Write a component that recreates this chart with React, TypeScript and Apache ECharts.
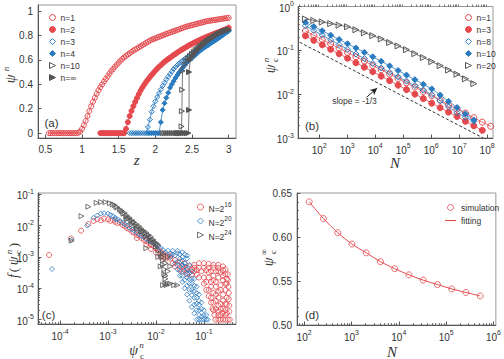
import React, { useEffect, useRef } from 'react';
import * as echarts from 'echarts';

const RED = '#e5484d';
const BLUE = '#2b7bc0';
const GREY = '#555555';
const TRI = 'path://M0,0L10,5L0,10Z';
const BAR = 'path://M0,0H20V2H0Z';
const SANS = 'Liberation Sans, Arial, Helvetica, sans-serif';
const SERIF = 'Liberation Serif, Times New Roman, serif';
const LOG2 = Math.log10(2);

// ---------- panel (a): psi^n versus z ----------
const aStep = 0.025;
const aStart1 = 0.55;
const aPsi1 = [0,0,0,0,0,0,0,0,0,0,0,0,0,0,0,0,
  0.003,0.012,0.035,0.065,0.1,0.14,0.18,0.22,0.257,0.29,0.322,0.351,0.377,0.4,0.422,0.444,0.466,0.488,0.509,0.527,0.545,0.562,0.578,0.594,0.608,0.621,0.633,0.644,0.655,0.666,0.676,
  0.685,0.694,0.703,0.712,0.721,0.73,0.739,0.749,0.758,0.765,0.771,0.777,0.783,0.789,0.795,0.801,0.807,0.813,
  0.819,0.824,0.83,0.835,0.84,0.846,0.851,0.857,0.862,0.868,0.873,0.877,0.881,0.885,0.889,0.893,0.897,0.901,0.905,0.909,0.913,0.917,0.919,0.922,0.924,0.927,0.929,0.931,0.934,0.936,0.938,0.941,0.943,0.945];
const aStart2 = 1.25;
const aPsi2 = [0,0,0,0,0,0,0,0,0,0,0,0,0,0,
  0.035,0.09,0.14,0.182,0.22,0.255,0.288,0.32,0.35,0.375,0.398,0.42,0.44,0.459,0.477,0.495,0.512,0.528,0.543,0.557,
  0.571,0.584,0.596,0.607,0.618,0.629,0.64,0.65,0.66,0.67,0.68,0.689,0.698,0.707,0.716,0.724,0.732,0.74,0.748,0.755,
  0.762,0.769,0.776,0.783,0.789,0.795,0.801,0.807,0.813,0.819,0.825,0.831,0.837,0.843,0.849,0.855,0.865];
const aStart3 = 1.65;
const aPsi3 = [0,0,0,0,0,0,0,0,0,0,
  0.05,0.11,0.175,0.22,0.26,0.296,0.328,0.358,0.388,0.414,0.44,0.462,0.484,0.506,0.526,0.542,0.557,0.571,0.584,0.596,
  0.608,0.619,0.63,0.641,0.652,0.663,0.674,0.685,0.695,0.705,0.714,0.724,0.733,0.742,0.751,0.76,0.769,0.777,0.786,0.795,
  0.804,0.813,0.822,0.831,0.84];
const aStart4 = 1.9;
const aPsi4 = [0,0,0,0,0,0,0,
  0.09,0.19,0.245,0.29,0.33,0.372,0.4,0.426,0.452,0.476,0.497,0.517,0.536,0.556,0.576,0.59,0.603,0.617,0.63,0.643,
  0.656,0.67,0.682,0.693,0.703,0.713,0.723,0.733,0.743,0.753,0.763,0.773,0.783,0.794,0.805,0.816,0.826,0.836];
const aZ10 = [2.1,2.125,2.15,2.175,2.2,2.225,2.25,2.275,2.3,2.325,2.35,2.358,2.362,2.366,2.372,
  2.4,2.425,2.45,2.475,2.5,2.525,2.55,2.575,2.6,2.625,2.65,2.675,2.7,2.725,2.75,2.775,2.8,2.825,2.85,2.875,2.9,2.925,2.95,2.975,3.0];
const aPsi10 = [0,0,0,0,0,0,0,0,0,0,0,0.055,0.18,0.355,0.51,
  0.56,0.59,0.612,0.632,0.65,0.666,0.681,0.695,0.708,0.72,0.732,0.743,0.754,0.764,0.774,0.784,0.793,0.802,0.811,0.819,0.827,0.834,0.84,0.846,0.85];
const aZInf = [2.3,2.325,2.35,2.375,2.4,2.425,2.45,2.46,2.46,2.475,
  2.5,2.525,2.55,2.575,2.6,2.625,2.65,2.675,2.7,2.725,2.75,2.775,2.8,2.825,2.85,2.875,2.9,2.925,2.95,2.975,3.0];
const aPsiInf = [0,0,0,0,0,0,0,0.19,0.5,0.6,
  0.625,0.645,0.663,0.68,0.695,0.709,0.722,0.735,0.747,0.758,0.769,0.779,0.789,0.798,0.807,0.815,0.823,0.83,0.836,0.841,0.845];
const aXTicks = [0.5, 1, 1.5, 2, 2.5, 3];
const aYTicks = [0, 0.2, 0.4, 0.6, 0.8, 1];

// ---------- panel (b): psi_c^n versus N (N = 2^p) ----------
const bPow1 = [5,6,7,8,9,10,11,12,13,14,15,16,17,18,19,20,21,22,23,24,25,26,27];
const bPsi1 = [0.277,0.221,0.176,0.14,0.112,0.089,0.071,0.057,0.045,0.036,0.0287,0.0228,0.0182,0.0145,0.0115,0.0092,0.0073,0.0058,0.0046,0.0037,0.0029,0.0023,0.00185];
const bPow3 = [5,6,7,8,9,10,11,12,13,14,15,16,17,18,19,20,21,22,23,24,25,26];
const bPsi3 = [0.214,0.169,0.1336,0.1055,0.0834,0.0659,0.052,0.0411,0.0325,0.0257,0.0203,0.016,0.0127,0.01,0.0079,0.0062,0.0049,0.0039,0.0031,0.0024,0.0019,0.0015];
const bPow8 = [5,6,7,8,9,10,11,12,13,14,15,16,17,18,19,20,21,22,23,24,25];
const bPsi8 = [0.363,0.284,0.222,0.173,0.135,0.106,0.0826,0.0646,0.0501,0.0396,0.0314,0.0249,0.0198,0.0157,0.0124,0.00977,0.00708,0.00513,0.00376,0.00295,0.0024];
const bPow10 = [5,6,7,8,9,10,11,12,13,14,15,16,17,18,19,20,21,22,23,24,25];
const bPsi10 = [0.437,0.348,0.278,0.222,0.177,0.141,0.113,0.09,0.0713,0.0562,0.0442,0.0347,0.0272,0.0214,0.0168,0.0132,0.00955,0.00684,0.00495,0.00355,0.00257];
const bPow20 = [5,6,7,8,9,10,11,12,13,14,15,16,17,18,19,20,21,22,23,24,25];
const bPsi20 = [0.519,0.479,0.442,0.407,0.376,0.345,0.295,0.251,0.216,0.182,0.151,0.126,0.1035,0.0841,0.0684,0.0553,0.0447,0.0355,0.0285,0.0224,0.0174];
const bGuideN = [20, 7.2e7];
const bGuidePsi = [0.153, 0.001];
const bArrowFrom = [4900, 0.0085];
const bArrowTo = [11750, 0.0138];

// ---------- panel (c): distribution f(psi_c^n) ----------
const cN16 = [
  [5.9e-5,1.15e-3],[1.7e-4,3.9e-3],[2.75e-4,6.9e-3],[3.9e-4,1.12e-2],[5e-4,1.41e-2],[6e-4,1.58e-2],[7.1e-4,1.48e-2],[8.3e-4,1.66e-2],[1e-3,1.58e-2],[1.12e-3,1.41e-2],[1.26e-3,1.51e-2],[1.41e-3,1.32e-2],[1.58e-3,1.2e-2],[1.78e-3,1.26e-2],[2e-3,1.05e-2],[2.24e-3,9.5e-3],[2.5e-3,8.3e-3],[2.8e-3,7.6e-3],[3.2e-3,6.3e-3],[3.5e-3,6e-3],[4e-3,5e-3],[4.5e-3,4.7e-3],[5e-3,4e-3],[5.6e-3,3.5e-3],[6.3e-3,3.2e-3],[7.1e-3,2.8e-3],[7.9e-3,2.4e-3],[8.9e-3,2.2e-3],[1e-2,1.9e-3],[1.12e-2,1.66e-3],[1.26e-2,1.5e-3],[1.41e-2,1.26e-3],[1.58e-2,1.12e-3],[4e-3,4e-3],[6.3e-3,2.5e-3],[1e-2,1.4e-3],[7.9e-3,1.8e-3],[1.26e-2,1e-3],
  [1.78e-2,1e-3],[2e-2,8.9e-4],[2.5e-2,7.9e-4],[3.16e-2,7.1e-4],[3.98e-2,6.3e-4],[2.5e-2,5e-4],[3.16e-2,4e-4],[3.98e-2,4e-4],[5e-2,3.2e-4],
  [1.6e-2,8.9e-4],[1.41e-2,1e-3],[2e-2,1.1e-3],[2.24e-2,6.3e-4],[2.82e-2,5.6e-4],[3.55e-2,5e-4],[4.47e-2,4.5e-4],[3.55e-2,3.5e-4],[4.47e-2,2.8e-4],[5.6e-2,4e-4],[5.6e-2,2.8e-4],[7.1e-2,2.8e-4],[7.1e-2,3.8e-4],
  [5e-2,5e-4],[6.3e-2,5.6e-4],[7.9e-2,6.3e-4],[0.1,6.3e-4],[0.126,6e-4],[0.158,5.6e-4],[0.2,5.6e-4],[0.251,5e-4],[0.282,4e-4],
  [6.3e-2,4.5e-4],[7.9e-2,4.5e-4],[0.1,4.5e-4],[0.126,4.5e-4],[0.158,4.5e-4],[0.2,4.5e-4],[0.251,3.8e-4],
  [8.9e-2,3.5e-4],[0.112,3.8e-4],[0.141,3.5e-4],[0.178,3.5e-4],[0.224,3.2e-4],[0.282,2.8e-4],
  [0.316,2.8e-4],[0.316,1.8e-4],[0.324,1.12e-4],[0.331,7.1e-5],[0.331,4.5e-5],[0.339,2.8e-5],[0.339,1.8e-5],[0.347,1e-5],
  [6.3e-2,3.5e-4],[7.9e-2,2.2e-4],[0.1,1.4e-4],[0.112,8.9e-5],[0.126,5.6e-5],[0.141,3.5e-5],[0.151,2.2e-5],[0.166,1.4e-5],[0.174,1e-5],
  [0.126,3.2e-4],[0.158,2.5e-4],[0.2,3.5e-4],[0.251,2.5e-4],[0.178,1.6e-4],[0.224,1.26e-4],[0.282,1.4e-4],[0.2,7.9e-5],[0.251,6.3e-5],[0.282,3.2e-5],[0.224,3.2e-5],[0.178,4e-5],[0.2,1.8e-5],[0.251,1.6e-5],[0.141,1.12e-4],
  [0.1,2.2e-4],[0.126,2.2e-4],[0.158,1.8e-4],[0.2,2.2e-4],[0.251,1.8e-4],[0.3,2e-4],
  [0.112,1.6e-4],[0.141,1.6e-4],[0.178,1.12e-4],[0.224,8.9e-5],[0.282,8.9e-5],[0.3,1.4e-4],
  [0.126,8.9e-5],[0.158,7.1e-5],[0.178,6.3e-5],[0.2,5e-5],[0.251,4e-5],[0.3,5e-5],[0.3,3e-5],
  [0.141,5e-5],[0.158,3.5e-5],[0.2,2.8e-5],[0.224,2.2e-5],[0.251,2.2e-5],[0.3,1.6e-5],[0.178,2.2e-5],[0.2,1.4e-5],[0.224,1.4e-5],[0.282,1.4e-5],
  [0.2,1e-5],[0.224,1e-5],[0.251,1e-5],[0.282,1e-5],[0.316,1e-5],[0.158,2e-5],[0.282,2e-5],
];
const cN20 = [
  [6.8e-5,4.1e-4],[1.74e-4,3.5e-3],[3.7e-4,1e-2],[5e-4,1.78e-2],[6e-4,2.1e-2],[7.1e-4,2.4e-2],[8.3e-4,2.5e-2],[1e-3,2.4e-2],[1.12e-3,2.2e-2],[1.26e-3,2e-2],[1.41e-3,1.78e-2],[1.58e-3,1.58e-2],[1.78e-3,1.41e-2],[2e-3,1.26e-2],[2.5e-3,1e-2],[3.2e-3,7.6e-3],[4e-3,6e-3],[5e-3,4.7e-3],[6.3e-3,3.7e-3],[7.9e-3,3e-3],[1e-2,2.4e-3],[1.26e-2,1.9e-3],
  [1.41e-3,1.6e-2],[2.24e-3,1.1e-2],[2.8e-3,8.5e-3],[3.5e-3,6.8e-3],[4.5e-3,5.2e-3],[5.6e-3,4.2e-3],[7.1e-3,3.3e-3],[8.9e-3,2.7e-3],[1.12e-2,2.1e-3],
  [1.41e-2,1.66e-3],[1.78e-2,1.58e-3],[2.24e-2,1.58e-3],[2.82e-2,1.58e-3],[3.55e-2,1.41e-3],[3.98e-2,1.2e-3],
  [1.58e-2,1.4e-3],[2e-2,1.3e-3],[2.24e-2,1.2e-3],[2.82e-2,1.3e-3],[3.16e-2,1.2e-3],[3.55e-2,1e-3],[4.47e-2,1.1e-3],
  [4.47e-2,8.9e-4],[5e-2,5.6e-4],[5.62e-2,3.5e-4],[6.3e-2,2e-4],[7.08e-2,1.12e-4],[7.94e-2,6.3e-5],[8.91e-2,3.5e-5],[0.1,2e-5],[0.112,1.4e-5],[0.12,1e-5],
  [2e-2,1e-3],[2.51e-2,6.3e-4],[2.82e-2,4e-4],[3.16e-2,2.5e-4],[3.55e-2,1.6e-4],[3.98e-2,1e-4],[4.47e-2,6.3e-5],[5e-2,4e-5],[5.62e-2,2.5e-5],[6.3e-2,1.6e-5],[7.08e-2,1e-5],
  [2.51e-2,1.12e-3],[3.16e-2,8.9e-4],[3.55e-2,5.6e-4],[3.98e-2,3.5e-4],[4.47e-2,2.2e-4],[5e-2,1.4e-4],[5.62e-2,8.9e-5],[6.3e-2,5e-5],[7.08e-2,3.2e-5],[7.94e-2,2e-5],[8.91e-2,1.26e-5],
  [2.82e-2,7e-4],[3.16e-2,5e-4],[3.55e-2,7.5e-4],[3.98e-2,5e-4],[3.98e-2,6.3e-4],[4.47e-2,4e-4],[4.47e-2,3e-4],[5e-2,3e-4],[5e-2,2e-4],[5.62e-2,2e-4],[5.62e-2,1.4e-4],[6.3e-2,1.2e-4],[6.3e-2,8e-5],[7.08e-2,7e-5],[7.08e-2,5e-5],[7.94e-2,4e-5],[7.94e-2,3e-5],[8.91e-2,2.2e-5],[0.1,1.4e-5],[0.112,1e-5],
  [5.62e-2,6e-5],[6.3e-2,3e-5],[7.08e-2,2e-5],[7.94e-2,1.4e-5],[5e-2,9e-5],[4.47e-2,1.2e-4],[3.98e-2,1.8e-4],[3.55e-2,2.5e-4],[3.16e-2,3.5e-4],
  [7.94e-2,1e-5],[8.91e-2,1e-5],[0.1,1e-5],
];
const cN24 = [
  [1.74e-4,3.3e-3],[2.8e-4,2e-2],[3.9e-4,4e-2],[5.8e-4,5.3e-2],[7.2e-4,5.6e-2],[8.9e-4,5.6e-2],[1.1e-3,5.2e-2],[1.38e-3,4.5e-2],
  [1.58e-3,3.8e-2],[1.78e-3,3.3e-2],[2e-3,2.8e-2],[2.24e-3,2.5e-2],[2.5e-3,2.1e-2],[2.8e-3,1.78e-2],[3.2e-3,1.5e-2],[3.5e-3,1.26e-2],[4e-3,1.1e-2],[4.5e-3,9.5e-3],[5e-3,7.9e-3],[5.6e-3,6.9e-3],[6.3e-3,6e-3],[7.1e-3,5e-3],[7.9e-3,4.4e-3],[8.9e-3,3.5e-3],[1e-2,2.8e-3],[1.12e-2,2.4e-3],
  [1.26e-3,4.8e-2],[1.5e-3,4e-2],[1.9e-3,3e-2],[2.1e-3,2.4e-2],[2.4e-3,1.9e-2],[2.65e-3,1.7e-2],[3e-3,1.4e-2],[3.35e-3,1.3e-2],[3.8e-3,1e-2],[4.2e-3,9e-3],[4.8e-3,7.3e-3],[5.3e-3,6.5e-3],[6e-3,5.5e-3],[6.7e-3,5e-3],[7.5e-3,4e-3],[8.4e-3,3.6e-3],[9.4e-3,3e-3],[1.06e-2,2.6e-3],
  [2.5e-3,1.6e-2],[3.2e-3,1.1e-2],[4e-3,7.9e-3],[5e-3,6.3e-3],[6.3e-3,4.5e-3],[7.9e-3,3.2e-3],[1e-2,2.1e-3],[6.3e-3,1.9e-3],
  [1.12e-2,1.6e-3],[1.26e-2,1.26e-3],[1.32e-2,1e-3],[1.41e-2,7.9e-4],[1.41e-2,5.6e-4],[1.5e-2,4e-4],[1.5e-2,2.8e-4],[1.58e-2,2e-4],[1.58e-2,1.4e-4],[1.78e-2,1.4e-4],[2e-2,1.4e-4],[1.26e-2,5e-4],[1.12e-2,1e-3],
  [1.41e-2,1.26e-4],[1.66e-2,1.26e-4],[2.4e-2,1.26e-4],[2.8e-2,1.26e-4],[1.58e-2,2.5e-4],[1.78e-2,3.5e-4],[2e-2,5e-4],[1.58e-2,6.3e-4],[1.78e-2,1e-3],[1.41e-2,1.26e-3],
];

// ---------- panel (d): psi_c^inf versus N ----------
const dPow = [7,8,9,10,11,12,13,14,15,16,17,18,19];
const dSim = [0.64,0.621,0.605,0.592,0.582,0.572,0.564,0.557,0.551,0.546,0.541,0.537,0.533];
const dFit = [0.64,0.621,0.605,0.592,0.582,0.572,0.564,0.557,0.551,0.546,0.541,0.537,0.533];

const gridPairs = (start: number, vals: number[]) => vals.map((v, i) => [+(start + i * aStep).toFixed(3), v]);
const logPairs = (pows: number[], vals: number[]) => vals.map((v, i) => [pows[i] * LOG2, Math.log10(v)]);
const logXY = (pts: number[][]) => pts.map(([x, y]) => [Math.log10(x), Math.log10(y)]);
const logMinor = (lo: number, hi: number) => {
  const out: number[] = [];
  for (let e = Math.floor(lo); e <= Math.ceil(hi); e++) {
    for (let k = 2; k <= 9; k++) {
      const v = e + Math.log10(k);
      if (v > lo && v < hi) out.push(v);
    }
  }
  return out;
};
const intTicks = (a: number, b: number) => { const o: number[] = []; for (let i = a; i <= b; i++) o.push(i); return o; };

const logRich = {
  b: { fontSize: 10, fontFamily: SANS, color: '#333', verticalAlign: 'bottom' },
  s: { fontSize: 7, fontFamily: SANS, color: '#333', verticalAlign: 'bottom', padding: [0, 0, 6, 0] },
};
const logFmt = (v: number) => `{b|10}{s|${Math.round(v)}}`;

function mainAxis(kind: 'x' | 'y', gridIndex: number, min: number, max: number, ticks: number[], formatter: any, margin: number, rich?: any) {
  return {
    type: 'value', gridIndex, min, max, position: kind === 'x' ? 'bottom' : 'left',
    axisLine: { show: true, onZero: false, lineStyle: { color: '#555', width: 1 } },
    axisTick: { show: true, inside: true, length: 3.5, customValues: ticks, lineStyle: { color: '#555', width: 1 } },
    axisLabel: { show: true, customValues: ticks, formatter, margin, color: '#333', fontSize: 10, fontFamily: SANS, rich },
    splitLine: { show: false },
  };
}
function minorAxis(kind: 'x' | 'y', gridIndex: number, min: number, max: number, ticks: number[]) {
  return {
    type: 'value', gridIndex, min, max, position: kind === 'x' ? 'bottom' : 'left',
    axisLine: { show: false },
    axisLabel: { show: false },
    axisTick: { show: true, inside: true, length: 2, customValues: ticks, lineStyle: { color: '#555', width: 0.8 } },
    splitLine: { show: false },
  };
}

const openStyle = (c: string) => ({ color: 'rgba(255,255,255,0)', borderColor: c, borderWidth: 1 });
const fillStyle = (c: string) => ({ color: c, borderColor: c, borderWidth: 1 });

function lineSeries(name: string, xi: number, data: number[][], symbol: string, size: number, color: string, open: boolean) {
  return {
    name, type: 'line', xAxisIndex: xi, yAxisIndex: xi, data, symbol, symbolSize: size,
    showAllSymbol: true, symbolKeepAspect: true,
    itemStyle: open ? openStyle(color) : fillStyle(color),
    lineStyle: { color, width: 0.8 }, emphasis: { disabled: true },
  };
}
function scatterSeries(name: string, xi: number, data: number[][], symbol: string, size: number, color: string) {
  return {
    name, type: 'scatter', xAxisIndex: xi, yAxisIndex: xi, data, symbol, symbolSize: size, symbolKeepAspect: true,
    itemStyle: openStyle(color), emphasis: { disabled: true },
  };
}

const txt = (x: number, y: number, text: string, size: number, italic: boolean, family = SERIF) => ({
  type: 'text', x, y,
  style: { text, fontSize: size, fontFamily: family, fontStyle: italic ? 'italic' : 'normal', fill: '#333', align: 'center', verticalAlign: 'middle' },
});

function buildOption() {
  const xa = [0.4, 3.1], ya = [-0.04, 1.05];
  const xb = [1.24, 8.21], yb = [-3, 0];
  const xc = [-4.46, -0.33], yc = [-5.14, -0.96];
  const xd = [1.85, 6.05], yd = [0.5, 0.65];
  const dMinorY: number[] = [];
  for (let i = 51; i < 65; i++) dMinorY.push(i / 100);

  const legendBase = {
    orient: 'vertical', itemWidth: 6, itemHeight: 6, itemGap: 3, selectedMode: false,
    textStyle: { fontSize: 8.5, fontFamily: SANS, color: '#333' },
    formatter: (n: string) => n.split('|')[1],
  };

  return {
    animation: false,
    backgroundColor: '#ffffff',
    grid: [
      { left: 38, top: 5, width: 198, height: 133 },
      { left: 298, top: 5, width: 195, height: 133 },
      { left: 38, top: 193, width: 198, height: 131 },
      { left: 297, top: 193, width: 201, height: 132 },
    ].map((g) => ({ ...g, show: true, borderColor: '#999', borderWidth: 1, backgroundColor: 'transparent' })),
    xAxis: [
      mainAxis('x', 0, xa[0], xa[1], aXTicks, (v: number) => String(v), 6),
      mainAxis('x', 1, xb[0], xb[1], intTicks(2, 8), logFmt, 4, logRich),
      mainAxis('x', 2, xc[0], xc[1], intTicks(-4, -1), logFmt, 4, logRich),
      mainAxis('x', 3, xd[0], xd[1], intTicks(2, 6), logFmt, 4, logRich),
      minorAxis('x', 1, xb[0], xb[1], logMinor(xb[0], xb[1])),
      minorAxis('x', 2, xc[0], xc[1], logMinor(xc[0], xc[1])),
      minorAxis('x', 3, xd[0], xd[1], logMinor(xd[0], xd[1])),
    ],
    yAxis: [
      mainAxis('y', 0, ya[0], ya[1], aYTicks, (v: number) => String(v), 5),
      mainAxis('y', 1, yb[0], yb[1], intTicks(-3, 0), logFmt, 4, logRich),
      mainAxis('y', 2, yc[0], yc[1], intTicks(-5, -1), logFmt, 4, logRich),
      mainAxis('y', 3, yd[0], yd[1], [0.5, 0.55, 0.6, 0.65], (v: number) => v.toFixed(2), 5),
      minorAxis('y', 1, yb[0], yb[1], logMinor(yb[0], yb[1])),
      minorAxis('y', 2, yc[0], yc[1], logMinor(yc[0], yc[1])),
      minorAxis('y', 3, yd[0], yd[1], dMinorY),
    ],
    legend: [
      {
        ...legendBase, left: 44, top: 8,
        data: [
          { name: 'a|n=1', icon: 'circle', itemStyle: openStyle(RED) },
          { name: 'a|n=2', icon: 'circle', itemStyle: fillStyle(RED) },
          { name: 'a|n=3', icon: 'diamond', itemStyle: openStyle(BLUE) },
          { name: 'a|n=4', icon: 'diamond', itemStyle: fillStyle(BLUE) },
          { name: 'a|n=10', icon: TRI, itemStyle: openStyle(GREY) },
          { name: 'a|n=∞', icon: TRI, itemStyle: fillStyle(GREY) },
        ],
      },
      {
        ...legendBase, left: 460, top: 8,
        data: [
          { name: 'b|n=1', icon: 'circle', itemStyle: openStyle(RED) },
          { name: 'b|n=3', icon: 'circle', itemStyle: fillStyle(RED) },
          { name: 'b|n=8', icon: 'diamond', itemStyle: openStyle(BLUE) },
          { name: 'b|n=10', icon: 'diamond', itemStyle: fillStyle(BLUE) },
          { name: 'b|n=20', icon: TRI, itemStyle: openStyle(GREY) },
        ],
      },
      {
        ...legendBase, left: 192, top: 196, itemGap: 2,
        formatter: (n: string) => `{b|N=2}{s|${n.split('|')[1]}}`,
        textStyle: {
          fontSize: 8.5, fontFamily: SANS, color: '#333',
          rich: {
            b: { fontSize: 8.5, fontFamily: SANS, color: '#333', verticalAlign: 'bottom' },
            s: { fontSize: 6.5, fontFamily: SANS, color: '#333', verticalAlign: 'bottom', padding: [0, 0, 5, 0] },
          },
        },
        data: [
          { name: 'c|16', icon: 'circle', itemStyle: openStyle(RED) },
          { name: 'c|20', icon: 'diamond', itemStyle: openStyle(BLUE) },
          { name: 'c|24', icon: TRI, itemStyle: openStyle(GREY) },
        ],
      },
      {
        ...legendBase, left: 440, top: 198, itemWidth: 11, itemGap: 4,
        data: [
          { name: 'd|simulation', icon: 'circle', itemStyle: openStyle(RED) },
          { name: 'd|fitting', icon: BAR, itemStyle: { color: RED, borderWidth: 0 } },
        ],
      },
    ],
    series: [
      // (a)
      lineSeries('a|n=1', 0, gridPairs(aStart1, aPsi1), 'circle', 5, RED, true),
      lineSeries('a|n=2', 0, gridPairs(aStart2, aPsi2), 'circle', 5, RED, false),
      lineSeries('a|n=3', 0, gridPairs(aStart3, aPsi3), 'diamond', 5, BLUE, true),
      lineSeries('a|n=4', 0, gridPairs(aStart4, aPsi4), 'diamond', 5, BLUE, false),
      lineSeries('a|n=10', 0, aZ10.map((z, i) => [z, aPsi10[i]]), TRI, 5, GREY, true),
      lineSeries('a|n=∞', 0, aZInf.map((z, i) => [z, aPsiInf[i]]), TRI, 5, GREY, false),
      // (b)
      {
        name: 'guide', type: 'line', xAxisIndex: 1, yAxisIndex: 1,
        data: bGuideN.map((n, i) => [Math.log10(n), Math.log10(bGuidePsi[i])]),
        symbol: 'none', lineStyle: { color: '#333', width: 1, type: [3, 2] }, emphasis: { disabled: true },
        markLine: {
          silent: true, symbol: ['none', 'arrow'], symbolSize: [5, 7], animation: false,
          lineStyle: { color: '#222', width: 1, type: 'solid' }, label: { show: false },
          data: [[{ coord: [Math.log10(bArrowFrom[0]), Math.log10(bArrowFrom[1])] }, { coord: [Math.log10(bArrowTo[0]), Math.log10(bArrowTo[1])] }]],
        },
      },
      lineSeries('b|n=1', 1, logPairs(bPow1, bPsi1), 'circle', 6, RED, true),
      lineSeries('b|n=3', 1, logPairs(bPow3, bPsi3), 'circle', 6, RED, false),
      lineSeries('b|n=8', 1, logPairs(bPow8, bPsi8), 'diamond', 6, BLUE, true),
      lineSeries('b|n=10', 1, logPairs(bPow10, bPsi10), 'diamond', 6, BLUE, false),
      lineSeries('b|n=20', 1, logPairs(bPow20, bPsi20), TRI, 6, GREY, true),
      // (c)
      scatterSeries('c|16', 2, logXY(cN16), 'circle', 5, RED),
      scatterSeries('c|20', 2, logXY(cN20), 'diamond', 5, BLUE),
      scatterSeries('c|24', 2, logXY(cN24), TRI, 5, GREY),
      // (d)
      {
        name: 'd|fitting', type: 'line', xAxisIndex: 3, yAxisIndex: 3, smooth: 0.3,
        data: dPow.map((p, i) => [p * LOG2, dFit[i]]), symbol: 'none',
        lineStyle: { color: RED, width: 1 }, itemStyle: { color: RED }, emphasis: { disabled: true },
      },
      scatterSeries('d|simulation', 3, dPow.map((p, i) => [p * LOG2, dSim[i]]), 'circle', 6, RED),
    ],
    graphic: [
      txt(51.5, 123, '(a)', 11.5, false, SANS),
      txt(312, 126, '(b)', 11.5, false, SANS),
      txt(48.5, 315, '(c)', 11.5, false, SANS),
      txt(312, 315, '(d)', 11.5, false, SANS),
      txt(354.5, 100.5, 'slope = -1/3', 8.5, false, SANS),
      txt(136.7, 160, 'z', 15, true),
      txt(395, 162.5, 'N', 15, true),
      txt(392, 351.5, 'N', 15, true),
      // (c) x title
      txt(133.5, 350, 'ψ', 14, true),
      txt(141.5, 344.5, 'n', 9, true),
      txt(142, 355.5, 'c', 9, false),
      // (a) y title
      { type: 'group', x: 10, y: 75, rotation: Math.PI / 2, children: [txt(-4, 0, 'ψ', 14, true), txt(6, -4, 'n', 9, true)] },
      // (b) y title
      { type: 'group', x: 270, y: 66, rotation: Math.PI / 2, children: [txt(-3, 0, 'ψ', 14, true), txt(6, -4.5, 'n', 9, true), txt(6, 4.5, 'c', 9, false)] },
      // (c) y title
      {
        type: 'group', x: 13.5, y: 256, rotation: Math.PI / 2,
        children: [txt(-20, 0, 'f', 14, true), txt(-14, 0, '(', 13, false), txt(-5, 0, 'ψ', 14, true), txt(4, -4.5, 'n', 9, true), txt(4, 4.5, 'c', 9, false), txt(11, 0, ')', 13, false)],
      },
      // (d) y title
      { type: 'group', x: 268.5, y: 258, rotation: Math.PI / 2, children: [txt(-4, 0, 'ψ', 14, true), txt(6, -4.5, '∞', 9, false), txt(6, 4.5, 'c', 9, false)] },
    ],
  };
}

export default function App() {
  const ref = useRef<HTMLDivElement>(null);
  useEffect(() => {
    if (!ref.current) return;
    const chart = echarts.init(ref.current, null, { renderer: 'svg' });
    chart.setOption(buildOption() as any);
    return () => chart.dispose();
  }, []);
  return <div ref={ref} style={{ position: 'absolute', left: 0, top: 0, width: 504, height: 359 }} />;
}
